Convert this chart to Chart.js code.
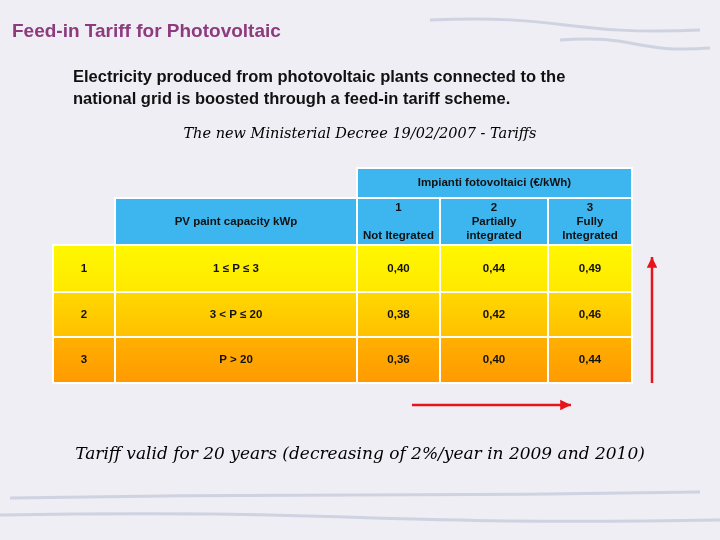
<!DOCTYPE html>
<html>
<head>
<meta charset="utf-8">
<script src="https://cdn.jsdelivr.net/npm/chart.js@4.4.0/dist/chart.umd.min.js"></script>
<style>
  body { margin: 0; width: 720px; height: 540px; overflow: hidden; background: #eeeef4; font-family: "Liberation Sans", Arial, sans-serif; }
  #wrap { position: relative; width: 720px; height: 540px; }
  canvas { position: absolute; left: 0; top: 0; }
  .t { position: absolute; white-space: nowrap; }
  #title { left: 12px; top: 20px; font-size: 19px; font-weight: bold; color: #8e3b7e; }
  #body { left: 73px; top: 65px; font-size: 16.5px; font-weight: bold; color: #111; line-height: 22px; white-space: normal; width: 560px; }
  #decree { left: 0; width: 720px; text-align: center; top: 125px; font-family: "DejaVu Serif", serif; font-style: italic; font-size: 14.5px; }
  #valid { left: 0; width: 720px; text-align: center; top: 443px; font-family: "DejaVu Serif", serif; font-style: italic; font-size: 17px; }
</style>
</head>
<body>
<div id="wrap">
  <canvas id="c" width="720" height="540"></canvas>
  <div class="t" id="title">Feed-in Tariff for Photovoltaic</div>
  <div class="t" id="body">Electricity produced from photovoltaic plants connected to the national grid is boosted through a feed-in tariff scheme.</div>
  <div class="t" id="decree">The new Ministerial Decree 19/02/2007 - Tariffs</div>
  <div class="t" id="valid">Tariff valid for 20 years (decreasing of 2%/year in 2009 and 2010)</div>
</div>
<script>
// Table data
const rowIds = ['1', '2', '3'];
const capacities = ['1 \u2264 P \u2264 3', '3 < P \u2264 20', 'P > 20'];
const notIntegrated = [0.40, 0.38, 0.36];
const partiallyIntegrated = [0.44, 0.42, 0.40];
const fullyIntegrated = [0.49, 0.46, 0.44];
const groupHeader = 'Impianti fotovoltaici (\u20ac/kWh)';
const capacityHeader = 'PV paint capacity kWp';
const typeHeaders = [['1', '', 'Not Itegrated'], ['2', 'Partially', 'integrated'], ['3', 'Fully', 'Integrated']];

// Layout (in slide units)
const colEdges = [53, 115, 357, 440, 548, 632];
const rowEdges = [168, 198, 245, 292, 337, 383];
const rowColors = [['#fff800', '#ffe800'], ['#ffd800', '#ffc000'], ['#ffb000', '#ff9a00']];
const fmt = v => v.toFixed(2).replace('.', ',');

const tablePlugin = {
  id: 'table',
  beforeDraw(chart) {
    const { ctx, scales: { x, y } } = chart;
    const X = v => x.getPixelForValue(v), Y = v => y.getPixelForValue(v);
    ctx.save();
    ctx.strokeStyle = 'rgba(150,160,190,0.35)'; ctx.lineWidth = 3;
    [[430, 20, 700, 30], [560, 40, 710, 48], [10, 498, 700, 492], [0, 515, 720, 520]].forEach(s => {
      ctx.beginPath(); ctx.moveTo(X(s[0]), Y(s[1])); ctx.bezierCurveTo(X((s[0]+s[2])/2), Y(s[1]-6), X((s[0]+s[2])/2), Y(s[3]+6), X(s[2]), Y(s[3])); ctx.stroke();
    });
    ctx.restore();
  },
  afterDraw(chart) {
    const { ctx, scales: { x, y } } = chart;
    const X = v => x.getPixelForValue(v), Y = v => y.getPixelForValue(v);
    const cell = (c0, c1, r0, r1, fill) => {
      ctx.fillStyle = fill;
      ctx.fillRect(X(colEdges[c0]), Y(rowEdges[r0]), X(colEdges[c1]) - X(colEdges[c0]), Y(rowEdges[r1]) - Y(rowEdges[r0]));
      ctx.strokeStyle = '#ffffff'; ctx.lineWidth = 2;
      ctx.strokeRect(X(colEdges[c0]), Y(rowEdges[r0]), X(colEdges[c1]) - X(colEdges[c0]), Y(rowEdges[r1]) - Y(rowEdges[r0]));
    };
    const text = (lines, cx, c0unused, r0, r1) => {
      const cy = (Y(rowEdges[r0]) + Y(rowEdges[r1])) / 2;
      ctx.fillStyle = '#111'; ctx.textAlign = 'center'; ctx.textBaseline = 'middle';
      ctx.font = 'bold 11.5px "Liberation Sans", Arial';
      lines.forEach((l, i) => ctx.fillText(l, cx, cy + (i - (lines.length - 1) / 2) * 14));
    };
    const mid = (c0, c1) => (X(colEdges[c0]) + X(colEdges[c1])) / 2;
    cell(2, 5, 0, 1, '#3db6f0'); text([groupHeader], mid(2, 5), 0, 0, 1);
    cell(1, 2, 1, 2, '#3db6f0'); text([capacityHeader], mid(1, 2), 0, 1, 2);
    typeHeaders.forEach((h, i) => { cell(2 + i, 3 + i, 1, 2, '#3db6f0'); text(h, mid(2 + i, 3 + i), 0, 1, 2); });
    rowIds.forEach((id, r) => {
      const g = ctx.createLinearGradient(0, Y(rowEdges[r + 2]), 0, Y(rowEdges[r + 3]));
      g.addColorStop(0, rowColors[r][0]); g.addColorStop(1, rowColors[r][1]);
      const vals = [id, capacities[r], fmt(notIntegrated[r]), fmt(partiallyIntegrated[r]), fmt(fullyIntegrated[r])];
      vals.forEach((v, c) => cell(c, c + 1, r + 2, r + 3, g));
      vals.forEach((v, c) => text([v], c === 0 ? X(84) : mid(c, c + 1), 0, r + 2, r + 3));
    });
    const arrow = (x0, y0, x1, y1) => {
      ctx.strokeStyle = '#e8141c'; ctx.fillStyle = '#e8141c'; ctx.lineWidth = 2.5;
      ctx.beginPath(); ctx.moveTo(X(x0), Y(y0)); ctx.lineTo(X(x1), Y(y1)); ctx.stroke();
      const a = Math.atan2(Y(y1) - Y(y0), X(x1) - X(x0));
      ctx.beginPath(); ctx.moveTo(X(x1), Y(y1));
      ctx.lineTo(X(x1) - 12 * Math.cos(a - 0.45), Y(y1) - 12 * Math.sin(a - 0.45));
      ctx.lineTo(X(x1) - 12 * Math.cos(a + 0.45), Y(y1) - 12 * Math.sin(a + 0.45));
      ctx.closePath(); ctx.fill();
    };
    arrow(652, 383, 652, 257);
    arrow(412, 405, 571, 405);
  }
};

new Chart(document.getElementById('c'), {
  type: 'scatter',
  data: { datasets: [{ data: [] }] },
  options: {
    responsive: false, animation: false,
    layout: { padding: 0 },
    plugins: { legend: { display: false }, tooltip: { enabled: false } },
    scales: {
      x: { type: 'linear', min: 0, max: 720, display: false },
      y: { type: 'linear', min: 0, max: 540, reverse: true, display: false }
    }
  },
  plugins: [tablePlugin]
});
</script>
</body>
</html>
